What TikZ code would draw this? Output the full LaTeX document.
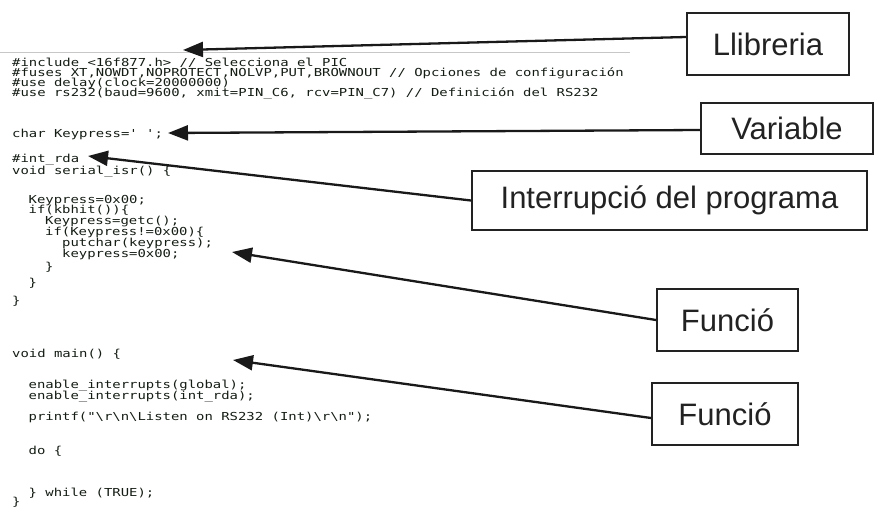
\documentclass[tikz,border=0pt]{standalone}
\usepackage{fontspec}
\setmainfont{Liberation Sans}
\newfontfamily\codefont[FakeStretch=1.265]{DejaVu Sans Mono}
\usetikzlibrary{arrows.meta}
\definecolor{codecol}{HTML}{141C14}
\definecolor{boxcol}{HTML}{222222}
\tikzset{
  codeline/.style={anchor=base west, inner sep=0pt, text=codecol,
    font=\codefont\fontsize{11}{12}\selectfont},
  labelbox/.style={draw=boxcol, line width=2pt, inner sep=0pt,
    font=\fontsize{31}{36}\selectfont, text=boxcol},
  pointer/.style={draw=black!90, line width=2.3pt,
    -{Triangle[length=20pt,width=15pt]}}
}
\newcommand{\sq}{\symbol{39}}
\newcommand{\dq}{\symbol{34}}
\newcommand{\bs}{\symbol{92}}
\begin{document}
\begin{tikzpicture}[x=1pt,y=-1pt]
\useasboundingbox (0,0) rectangle (875,506);
\fill[white] (0,0) rectangle (875,506);
% thin separator above code
\draw[black!22, line width=0.8pt] (0,52) -- (630,52);

% code lines
\node[codeline] (c1) at (12,66) {\#include <16f877.h> // Selecciona el PIC};
\node[codeline] (c2) at (12,76) {\#fuses XT,NOWDT,NOPROTECT,NOLVP,PUT,BROWNOUT // Opciones de configuración};
\node[codeline] (c3) at (12,86) {\#use delay(clock=20000000)};
\node[codeline] (c4) at (12,96) {\#use rs232(baud=9600, xmit=PIN\_C6, rcv=PIN\_C7) // Definición del RS232};
\node[codeline] (c5) at (12,137) {char Keypress=\sq\ \sq;};
\node[codeline] (c6) at (12,162) {\#int\_rda};
\node[codeline] (c7) at (12,174) {void serial\_isr() \{};
\node[codeline] (c8) at (28.5,203) {Keypress=0x00;};
\node[codeline] (c9) at (28.5,213) {if(kbhit())\{};
\node[codeline] (c10) at (45,224) {Keypress=getc();};
\node[codeline] (c11) at (45,235) {if(Keypress!=0x00)\{};
\node[codeline] (c12) at (62,246) {putchar(keypress);};
\node[codeline] (c13) at (62,257) {keypress=0x00;};
\node[codeline] (c14) at (45,270) {\}};
\node[codeline] (c15) at (28.5,286) {\}};
\node[codeline] (c16) at (12,304) {\}};
\node[codeline] (c17) at (12,357) {void main() \{};
\node[codeline] (c18) at (28.5,388) {enable\_interrupts(global);};
\node[codeline] (c19) at (28.5,399) {enable\_interrupts(int\_rda);};
\node[codeline] (c20) at (28.5,420) {printf(\dq\bs r\bs n\bs Listen on RS232 (Int)\bs r\bs n\dq);};
\node[codeline] (c21) at (28.5,454) {do \{};
\node[codeline] (c22) at (28.5,496) {\} while (TRUE);};
\node[codeline] (c23) at (12,505) {\}};

% label boxes
\node[labelbox, minimum width=162pt, minimum height=62pt] (lib) at (768,44) {Llibreria};
\node[labelbox, minimum width=172pt, minimum height=51pt] (var) at (787,128.5) {Variable};
\node[labelbox, minimum width=395pt, minimum height=59pt] (irq) at (669.5,200.5) {Interrupció del programa};
\node[labelbox, minimum width=141pt, minimum height=62pt] (f1) at (727.5,320) {Funció};
\node[labelbox, minimum width=146pt, minimum height=62pt] (f2) at (725,414) {Funció};

% arrow targets
\coordinate (tlib) at (183,50);
\coordinate (tvar) at (168,133);
\coordinate (tirq) at (88,156);
\coordinate (tf1) at (232,252);
\coordinate (tf2) at (233,360);

\draw[pointer] ([yshift=7pt]lib.west) -- (tlib);
\draw[pointer] ([yshift=-1.5pt]var.west) -- (tvar);
\draw[pointer] (irq.west) -- (tirq);
\draw[pointer] (f1.west) -- (tf1);
\draw[pointer] ([yshift=-4pt]f2.west) -- (tf2);
\end{tikzpicture}
\end{document}
